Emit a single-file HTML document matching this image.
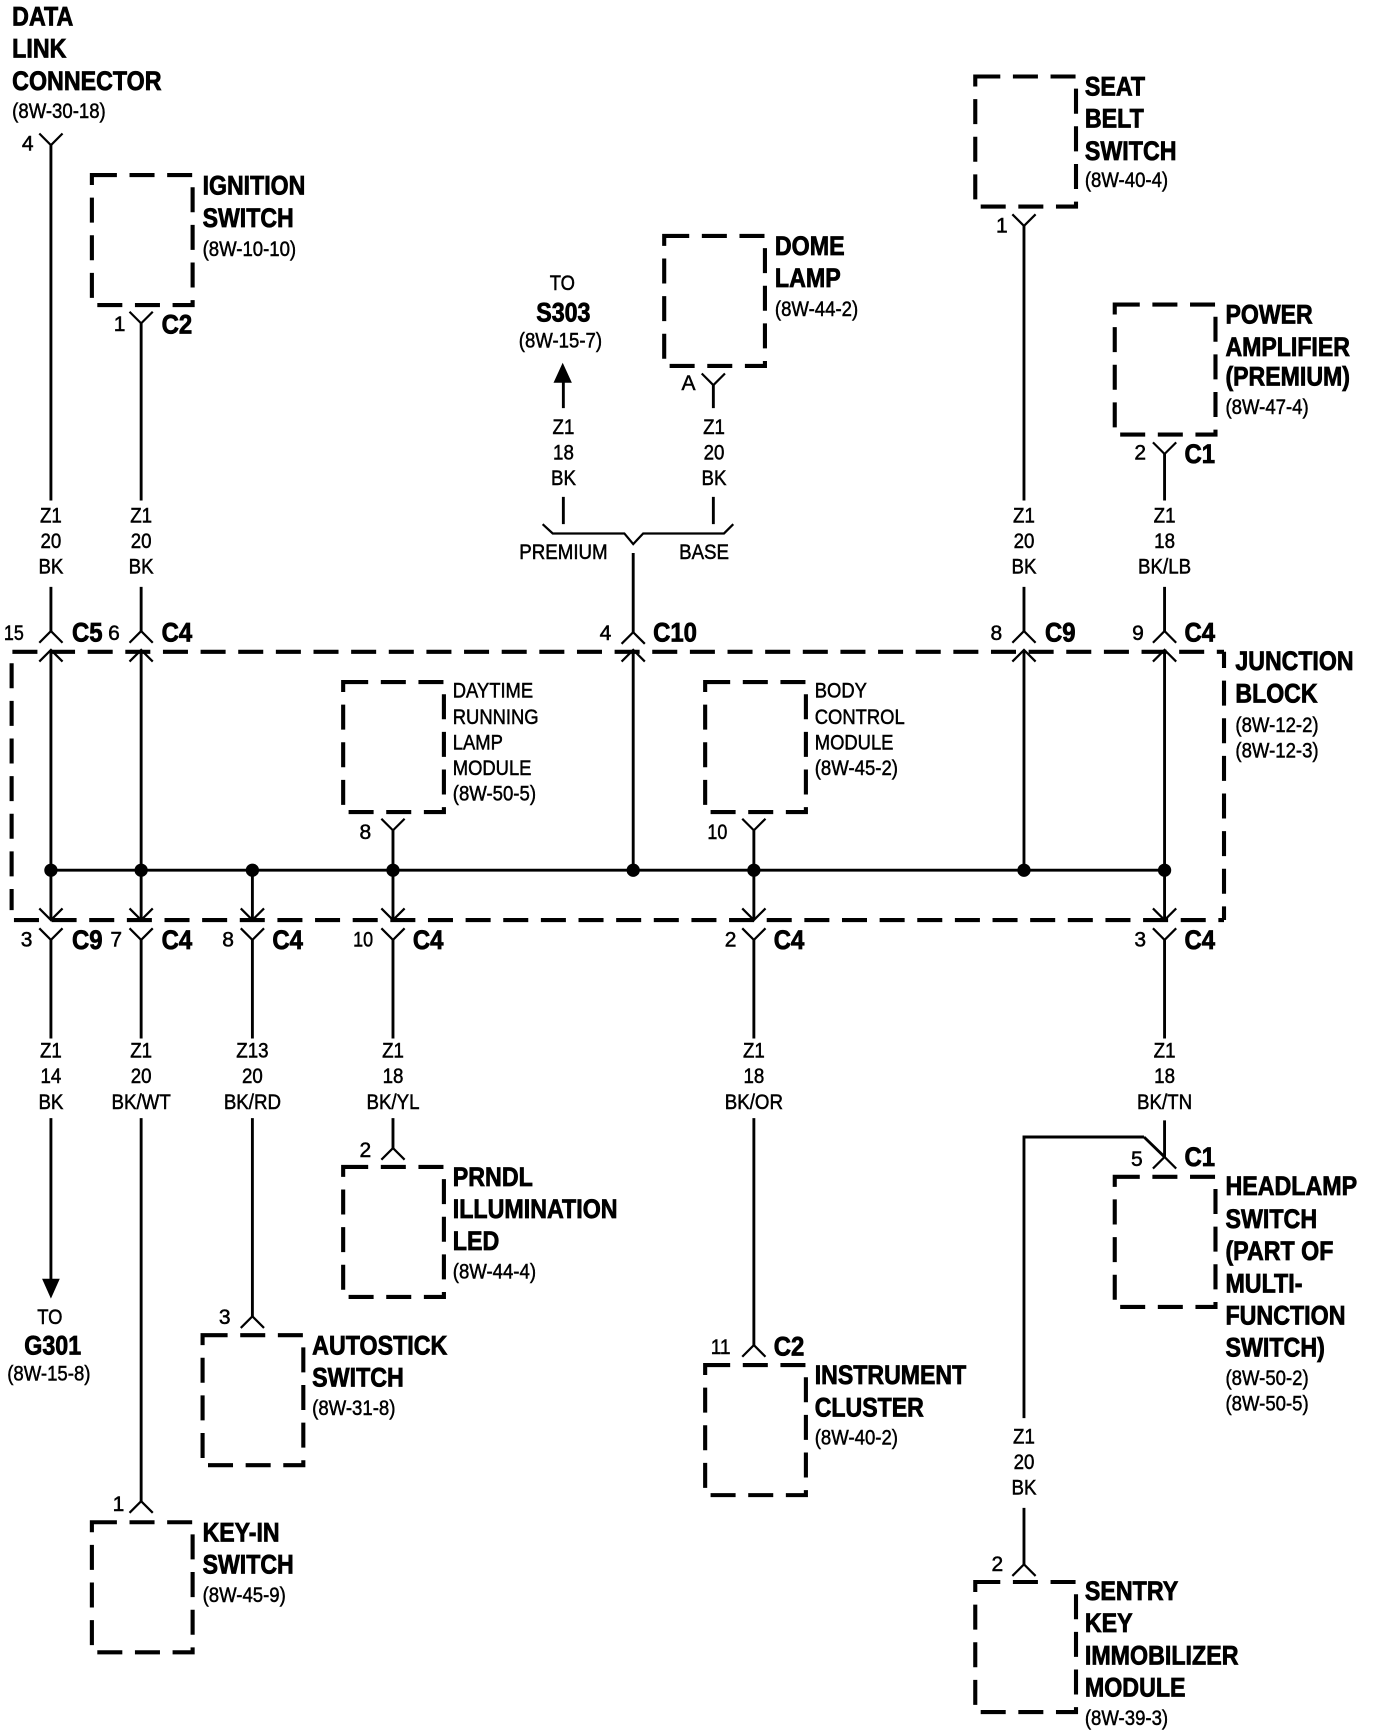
<!DOCTYPE html>
<html>
<head>
<meta charset="utf-8">
<style>
html,body{margin:0;padding:0;background:#fff}
svg{display:block}
text{font-family:"Liberation Sans",sans-serif;fill:#000}
.b text,text.b{font-weight:bold;font-size:24px;stroke:#000;stroke-width:.7px}
.b{transform:translateY(-.7px)}
.r text,text.r{font-size:19px;stroke:#000;stroke-width:.45px}
.m{text-anchor:middle}
.w{fill:none;stroke:#000;stroke-width:2.6}
.f{fill:none;stroke:#000;stroke-width:2}
.d{fill:none;stroke:#000;stroke-width:3.7;stroke-dasharray:22.6 11.4}
</style>
</head>
<body>
<svg xmlns="http://www.w3.org/2000/svg" width="1376" height="1736" viewBox="0 0 1243 1568">
<defs>
<path id="Y" class="f" d="M-10.500-10.500 0 0 10.500-10.500"/>
<path id="A" class="f" d="M-10.500 10.500 0 0 10.500 10.500"/>
</defs>
<rect width="1243" height="1568" fill="#fff"/>

<!-- component boxes -->
<g class="d">
<rect x="83" y="158" width="91" height="117.500"/>
<rect x="881" y="69" width="91" height="117.500"/>
<rect x="600" y="213" width="91" height="117.500"/>
<rect x="1007" y="275" width="91" height="117.500"/>
<rect x="310" y="616" width="91" height="117.500"/>
<rect x="637" y="616" width="91" height="117.500"/>
<rect x="310" y="1054" width="91" height="117.500"/>
<rect x="183" y="1206" width="91" height="117.500"/>
<rect x="637" y="1233" width="91" height="117.500"/>
<rect x="83" y="1375" width="91" height="117.500"/>
<rect x="1007" y="1063" width="91" height="117.500"/>
<rect x="881" y="1429" width="91" height="117.500"/>
<!-- junction block -->
<path d="M11.200 588.700H1105.700"/>
<path d="M1105.700 588.700V831" stroke-dashoffset="8"/>
<path d="M12.600 831H1105.700"/>
<path d="M10.500 599V822"/>
</g>

<!-- wires -->
<path class="w" d="M46 131V452M46 530V570M46 587V831
M127.500 292V452M127.500 530V570M127.500 587V831
M925 204V452M925 530V570M925 587V786
M1052 410V452M1052 530V570M1052 587V831
M572 499.500V571M572 587V786
M46 786H1052
M355 750V831M681 750V831M228 786V831
M46 849V938M46 1010V1156
M127.500 849V938M127.500 1010V1356
M228 849V938M228 1010V1189
M355 849V938M355 1010V1037
M681 849V938M681 1010V1215
M1052 849V938M1052 1012V1045
M1033.400 1027L1052 1045M1033.400 1027H925V1281M925 1362V1413
M508.900 368.600V345M508.900 448.700V473.400
M644.400 347.800V368.600M644.400 448.700V473.400"/>
<path class="f" d="M490.200 473.400L499.300 481.800H564L572 491.400L581 481.800H654L662.400 473.400"/>
<path d="M508.300 327.600L500 345.700H516.600Z"/>
<path d="M46 1173L38 1155H54Z"/>

<!-- junction dots -->
<g>
<circle cx="46" cy="786" r="6"/><circle cx="127.500" cy="786" r="6"/><circle cx="228" cy="786" r="6"/>
<circle cx="355" cy="786" r="6"/><circle cx="572" cy="786" r="6"/><circle cx="681" cy="786" r="6"/>
<circle cx="925" cy="786" r="6"/><circle cx="1052" cy="786" r="6"/>
</g>

<!-- forks -->
<use href="#Y" x="46" y="131"/><use href="#Y" x="127.500" y="292"/><use href="#Y" x="925" y="204"/>
<use href="#Y" x="644.400" y="347.800"/><use href="#Y" x="1052" y="410"/>
<use href="#Y" x="355" y="750"/><use href="#Y" x="681" y="750"/>
<use href="#A" x="46" y="570"/><use href="#A" x="127.500" y="570"/><use href="#A" x="572" y="571"/><use href="#A" x="925" y="570"/><use href="#A" x="1052" y="570"/>
<use href="#A" x="46" y="587"/><use href="#A" x="127.500" y="587"/><use href="#A" x="572" y="587"/><use href="#A" x="925" y="587"/><use href="#A" x="1052" y="587"/>
<use href="#Y" x="46" y="831"/><use href="#Y" x="127.500" y="831"/><use href="#Y" x="228" y="831"/><use href="#Y" x="355" y="831"/><use href="#Y" x="681" y="831"/><use href="#Y" x="1052" y="831"/>
<use href="#Y" x="46" y="849"/><use href="#Y" x="127.500" y="849"/><use href="#Y" x="228" y="849"/><use href="#Y" x="355" y="849"/><use href="#Y" x="681" y="849"/><use href="#Y" x="1052" y="849"/>
<use href="#A" x="355" y="1037"/><use href="#A" x="228" y="1189"/><use href="#A" x="681" y="1215"/><use href="#A" x="127.500" y="1356"/><use href="#A" x="1052" y="1045"/><use href="#A" x="925" y="1413"/>

<!-- component labels -->
<g transform="translate(11,0) scale(.875,1)"><g class="b"><text y="23.500">DATA</text><text y="52.500">LINK</text><text y="81.700">CONNECTOR</text></g><text class="r" y="106.500" transform="scale(1.01,1)">(8W-30-18)</text></g>
<g transform="translate(183,0) scale(.87,1)"><g class="b"><text y="176.500">IGNITION</text><text y="205.500">SWITCH</text></g><text class="r" y="231" transform="scale(1.015,1)">(8W-10-10)</text></g>
<g transform="translate(980,0) scale(.875,1)"><g class="b"><text y="87">SEAT</text><text y="116">BELT</text><text y="145">SWITCH</text></g><text class="r" y="169" transform="scale(1.01,1)">(8W-40-4)</text></g>
<g transform="translate(700,0) scale(.875,1)"><g class="b"><text y="231">DOME</text><text y="260">LAMP</text></g><text class="r" y="285.500" transform="scale(1.01,1)">(8W-44-2)</text></g>
<g transform="translate(1107,0) scale(.87,1)"><g class="b"><text y="293">POWER</text><text y="322">AMPLIFIER</text><text y="349">(PREMIUM)</text></g><text class="r" y="374" transform="scale(1.015,1)">(8W-47-4)</text></g>
<g transform="translate(1116,0) scale(.87,1)"><g class="b"><text y="606">JUNCTION</text><text y="635">BLOCK</text></g><g class="r" transform="scale(1.015,1)"><text y="661">(8W-12-2)</text><text y="684">(8W-12-3)</text></g></g>
<g transform="translate(409,0) scale(.875,1)"><g class="r"><text y="630">DAYTIME</text><text y="654">RUNNING</text><text y="677">LAMP</text><text y="700">MODULE</text></g><text class="r" y="723" transform="scale(1.01,1)">(8W-50-5)</text></g>
<g transform="translate(736,0) scale(.875,1)"><g class="r"><text y="630">BODY</text><text y="654">CONTROL</text><text y="677">MODULE</text></g><text class="r" y="700" transform="scale(1.01,1)">(8W-45-2)</text></g>
<g transform="translate(409,0) scale(.875,1)"><g class="b"><text y="1072">PRNDL</text><text y="1101">ILLUMINATION</text><text y="1130">LED</text></g><text class="r" y="1155" transform="scale(1.01,1)">(8W-44-4)</text></g>
<g transform="translate(282,0) scale(.875,1)"><g class="b"><text y="1224">AUTOSTICK</text><text y="1253">SWITCH</text></g><text class="r" y="1278" transform="scale(1.01,1)">(8W-31-8)</text></g>
<g transform="translate(736,0) scale(.87,1)"><g class="b"><text y="1251">INSTRUMENT</text><text y="1280">CLUSTER</text></g><text class="r" y="1305" transform="scale(1.015,1)">(8W-40-2)</text></g>
<g transform="translate(183,0) scale(.87,1)"><g class="b"><text y="1393">KEY-IN</text><text y="1422">SWITCH</text></g><text class="r" y="1447" transform="scale(1.015,1)">(8W-45-9)</text></g>
<g transform="translate(1107,0) scale(.875,1)"><g class="b"><text y="1080">HEADLAMP</text><text y="1110">SWITCH</text><text y="1139">(PART OF</text><text y="1168">MULTI-</text><text y="1197">FUNCTION</text><text y="1226">SWITCH)</text></g><g class="r" transform="scale(1.01,1)"><text y="1251">(8W-50-2)</text><text y="1274">(8W-50-5)</text></g></g>
<g transform="translate(980,0) scale(.875,1)"><g class="b"><text y="1446">SENTRY</text><text y="1475">KEY</text><text y="1504">IMMOBILIZER</text><text y="1533">MODULE</text></g><text class="r" y="1558" transform="scale(1.01,1)">(8W-39-3)</text></g>

<!-- TO labels -->
<g class="m" transform="translate(508,0) scale(.875,1)"><text class="r" y="262">TO</text><text class="b" x="1" y="291">S303</text><text class="r" x="-2" y="314" transform="scale(1.01,1)">(8W-15-7)</text></g>
<g class="m" transform="translate(45,0) scale(.875,1)"><text class="r" y="1196">TO</text><text class="b" x="3" y="1224">G301</text><text class="r" x="-1" y="1247" transform="scale(1.01,1)">(8W-15-8)</text></g>

<!-- wire labels -->
<g class="m r" transform="translate(46,0) scale(.89,1)"><text y="472">Z1</text><text y="495">20</text><text y="518">BK</text></g>
<g class="m r" transform="translate(127.500,0) scale(.89,1)"><text y="472">Z1</text><text y="495">20</text><text y="518">BK</text></g>
<g class="m r" transform="translate(925,0) scale(.89,1)"><text y="472">Z1</text><text y="495">20</text><text y="518">BK</text></g>
<g class="m r" transform="translate(1052,0) scale(.89,1)"><text y="472">Z1</text><text y="495">18</text><text y="518">BK/LB</text></g>
<g class="m r" transform="translate(509,0) scale(.89,1)"><text y="392">Z1</text><text y="415">18</text><text y="438">BK</text><text y="505">PREMIUM</text></g>
<g class="m r" transform="translate(645,0) scale(.89,1)"><text y="392">Z1</text><text y="415">20</text><text y="438">BK</text></g>
<g class="m r" transform="translate(636,0) scale(.89,1)"><text y="505">BASE</text></g>
<g class="m r" transform="translate(46,0) scale(.89,1)"><text y="955">Z1</text><text y="978">14</text><text y="1001.500">BK</text></g>
<g class="m r" transform="translate(127.500,0) scale(.89,1)"><text y="955">Z1</text><text y="978">20</text><text y="1001.500">BK/WT</text></g>
<g class="m r" transform="translate(228,0) scale(.89,1)"><text y="955">Z13</text><text y="978">20</text><text y="1001.500">BK/RD</text></g>
<g class="m r" transform="translate(355,0) scale(.89,1)"><text y="955">Z1</text><text y="978">18</text><text y="1001.500">BK/YL</text></g>
<g class="m r" transform="translate(681,0) scale(.89,1)"><text y="955">Z1</text><text y="978">18</text><text y="1001.500">BK/OR</text></g>
<g class="m r" transform="translate(1052,0) scale(.89,1)"><text y="955">Z1</text><text y="978">18</text><text y="1001.500">BK/TN</text></g>
<g class="m r" transform="translate(925,0) scale(.89,1)"><text y="1304">Z1</text><text y="1327">20</text><text y="1350">BK</text></g>

<!-- pin numbers -->
<g class="m r">
<text x="25" y="136">4</text><text x="108" y="299">1</text><text x="905" y="210">1</text><text x="622" y="352">A</text><text x="1030" y="415">2</text>
<text x="12.500" y="578" textLength="18" lengthAdjust="spacingAndGlyphs">15</text><text x="103" y="578">6</text><text x="547" y="578">4</text><text x="900" y="578">8</text><text x="1028" y="578">9</text>
<text x="330" y="758">8</text><text x="648" y="758" textLength="18" lengthAdjust="spacingAndGlyphs">10</text>
<text x="24" y="855">3</text><text x="105" y="855">7</text><text x="206" y="855">8</text><text x="328" y="855" textLength="18" lengthAdjust="spacingAndGlyphs">10</text><text x="660" y="855">2</text><text x="1030" y="855">3</text>
<text x="330" y="1045">2</text><text x="203" y="1196">3</text><text x="651" y="1223" textLength="18" lengthAdjust="spacingAndGlyphs">11</text><text x="107" y="1365">1</text><text x="1027" y="1053">5</text><text x="901" y="1419">2</text>
</g>

<!-- connector names -->
<g class="b">
<text transform="translate(146,302) scale(.9,1)">C2</text>
<text transform="translate(1070,419) scale(.9,1)">C1</text>
<text transform="translate(65,580) scale(.9,1)">C5</text>
<text transform="translate(146,580) scale(.9,1)">C4</text>
<text transform="translate(590,580) scale(.9,1)">C10</text>
<text transform="translate(944,580) scale(.9,1)">C9</text>
<text transform="translate(1070,580) scale(.9,1)">C4</text>
<text transform="translate(65,858) scale(.9,1)">C9</text>
<text transform="translate(146,858) scale(.9,1)">C4</text>
<text transform="translate(246,858) scale(.9,1)">C4</text>
<text transform="translate(373,858) scale(.9,1)">C4</text>
<text transform="translate(699,858) scale(.9,1)">C4</text>
<text transform="translate(1070,858) scale(.9,1)">C4</text>
<text transform="translate(1070,1054) scale(.9,1)">C1</text>
<text transform="translate(699,1225) scale(.9,1)">C2</text>
</g>
</svg>
</body>
</html>
